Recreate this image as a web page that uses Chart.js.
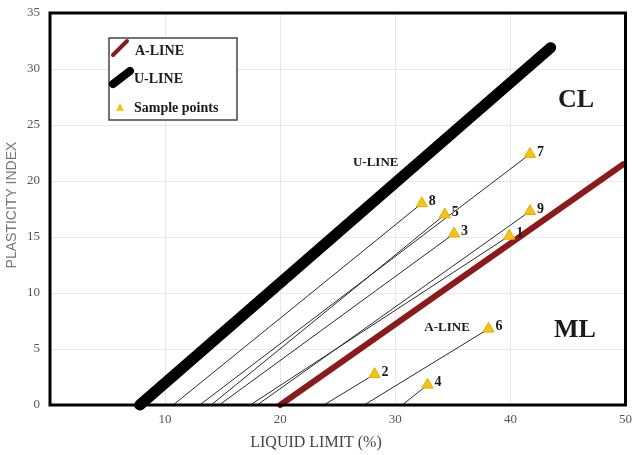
<!DOCTYPE html>
<html>
<head>
<meta charset="utf-8">
<script src="https://cdn.jsdelivr.net/npm/chart.js@4/dist/chart.umd.min.js"></script>
<style>
  html, body { margin: 0; padding: 0; background: #fff; }
  #wrap { width: 633px; height: 455px; }
</style>
</head>
<body>
<div id="wrap"><canvas id="chart"></canvas></div>
<script>
// sample points (liquid limit, plasticity index) and where each guide line meets PI = 0
const sampleIds = ['1', '2', '3', '4', '5', '6', '7', '8', '9'];
const sampleLL = [39.9, 28.2, 35.1, 32.8, 34.3, 38.1, 41.7, 32.3, 41.7];
const samplePI = [15.1, 2.75, 15.3, 1.8, 17.0, 6.8, 22.4, 18.0, 17.3];
const guideStartLL = [17.4, 23.8, 14.7, 30.6, 14.0, 27.3, 13.0, 10.7, 18.0];

// classification lines
const aLineLL = [20, 49.8];
const aLinePI = [0, 21.5];
const uLineLL = [7.8, 43.5];
const uLinePI = [0, 31.9];

// axis ticks
const xTicks = [0, 10, 20, 30, 40, 50];
const yTicks = [0, 5, 10, 15, 20, 25, 30, 35];

const SERIF = '"Liberation Serif", "DejaVu Serif", serif';
const YELLOW = '#f3c316';

const toPoints = (xs, ys) => xs.map((v, i) => ({ x: v, y: ys[i] }));

// guide line from the x axis up to each sample point
const guideSets = sampleLL.map((ll, i) => ({
  label: 'guide ' + sampleIds[i],
  data: [{ x: guideStartLL[i], y: 0 }, { x: ll, y: samplePI[i] }],
  showLine: true,
  borderColor: '#2a2a2a',
  borderWidth: 1,
  pointRadius: 0,
  clip: false
}));

// text, frame and legend drawn over the plot
const overlay = {
  id: 'overlay',
  afterDatasetsDraw(chart) {
    const { ctx, chartArea: a, scales: { x, y } } = chart;
    ctx.save();

    // frame round the plot area
    ctx.lineWidth = 3;
    ctx.strokeStyle = '#000';
    ctx.strokeRect(a.left, a.top, a.right - a.left, a.bottom - a.top);

    // sample numbers
    ctx.fillStyle = '#1a1a1a';
    ctx.textBaseline = 'middle';
    ctx.textAlign = 'left';
    ctx.font = 'bold 14px ' + SERIF;
    sampleIds.forEach((id, i) => {
      ctx.fillText(id, x.getPixelForValue(sampleLL[i]) + 7, y.getPixelForValue(samplePI[i]) - 2);
    });

    // zone and line names
    ctx.textAlign = 'center';
    ctx.font = 'bold 26px ' + SERIF;
    ctx.fillText('CL', x.getPixelForValue(45.7), y.getPixelForValue(27.2));
    ctx.fillText('ML', x.getPixelForValue(45.6), y.getPixelForValue(6.7));
    ctx.font = 'bold 13px ' + SERIF;
    ctx.fillText('U-LINE', x.getPixelForValue(28.3), y.getPixelForValue(21.6));
    ctx.fillText('A-LINE', x.getPixelForValue(34.5), y.getPixelForValue(6.9));

    // legend box
    ctx.lineWidth = 1.5;
    ctx.strokeStyle = '#444';
    ctx.fillStyle = '#fff';
    ctx.fillRect(109, 38, 128, 82);
    ctx.strokeRect(109, 38, 128, 82);

    ctx.lineCap = 'round';
    ctx.strokeStyle = '#8b1a1a';
    ctx.lineWidth = 4;
    ctx.beginPath(); ctx.moveTo(113, 55); ctx.lineTo(127, 41); ctx.stroke();
    ctx.strokeStyle = '#000';
    ctx.lineWidth = 8;
    ctx.beginPath(); ctx.moveTo(113, 84); ctx.lineTo(130, 71); ctx.stroke();

    ctx.fillStyle = YELLOW;
    ctx.beginPath(); ctx.moveTo(120, 103); ctx.lineTo(124, 111); ctx.lineTo(116, 111); ctx.closePath(); ctx.fill();

    ctx.fillStyle = '#1a1a1a';
    ctx.textAlign = 'left';
    ctx.font = 'bold 14px ' + SERIF;
    ctx.fillText('A-LINE', 135, 51);
    ctx.fillText('U-LINE', 134, 79);
    ctx.fillText('Sample points', 134, 108);

    // axis titles
    ctx.fillStyle = '#444';
    ctx.textAlign = 'center';
    ctx.font = '16px ' + SERIF;
    ctx.fillText('LIQUID LIMIT (%)', 316, 443);
    ctx.translate(12, 205);
    ctx.rotate(-Math.PI / 2);
    ctx.fillStyle = '#777';
    ctx.font = '14px "Liberation Sans", sans-serif';
    ctx.fillText('PLASTICITY INDEX', 0, 0);

    ctx.restore();
  }
};

new Chart(document.getElementById('chart'), {
  type: 'scatter',
  data: {
    datasets: [
      {
        label: 'Sample points',
        data: toPoints(sampleLL, samplePI),
        pointStyle: 'triangle',
        pointRadius: 6.5,
        backgroundColor: YELLOW,
        borderColor: '#e5ad00',
        borderWidth: 1,
        clip: false
      },
      {
        label: 'U-LINE',
        data: toPoints(uLineLL, uLinePI),
        showLine: true,
        borderColor: '#000',
        borderWidth: 11,
        borderCapStyle: 'round',
        pointRadius: 0,
        clip: false
      },
      {
        label: 'A-LINE',
        data: toPoints(aLineLL, aLinePI),
        showLine: true,
        borderColor: '#8b1a1a',
        borderWidth: 6,
        borderCapStyle: 'round',
        pointRadius: 0,
        clip: false
      },
      ...guideSets
    ]
  },
  options: {
    responsive: true,
    maintainAspectRatio: false,
    animation: false,
    layout: { padding: { top: 13, right: 7, left: 0, bottom: 0 } },
    plugins: {
      legend: { display: false },
      tooltip: { enabled: false }
    },
    scales: {
      x: {
        type: 'linear',
        min: 0,
        max: 50,
        afterBuildTicks: s => { s.ticks = xTicks.map(v => ({ value: v })); },
        afterFit: s => { s.height = 50; s.paddingLeft = 0; s.paddingRight = 0; },
        grid: { color: '#e8e8e8', drawTicks: false },
        border: { display: false },
        ticks: {
          padding: 7,
          color: '#555',
          font: { family: SERIF, size: 13 },
          callback: v => (v === 0 ? '' : v)
        }
      },
      y: {
        type: 'linear',
        min: 0,
        max: 35,
        afterBuildTicks: s => { s.ticks = yTicks.map(v => ({ value: v })); },
        afterFit: s => { s.width = 50; s.paddingTop = 0; s.paddingBottom = 0; },
        grid: { color: '#e8e8e8', drawTicks: false },
        border: { display: false },
        ticks: {
          padding: 10,
          color: '#555',
          font: { family: SERIF, size: 13 }
        }
      }
    }
  },
  plugins: [overlay]
});
</script>
</body>
</html>
